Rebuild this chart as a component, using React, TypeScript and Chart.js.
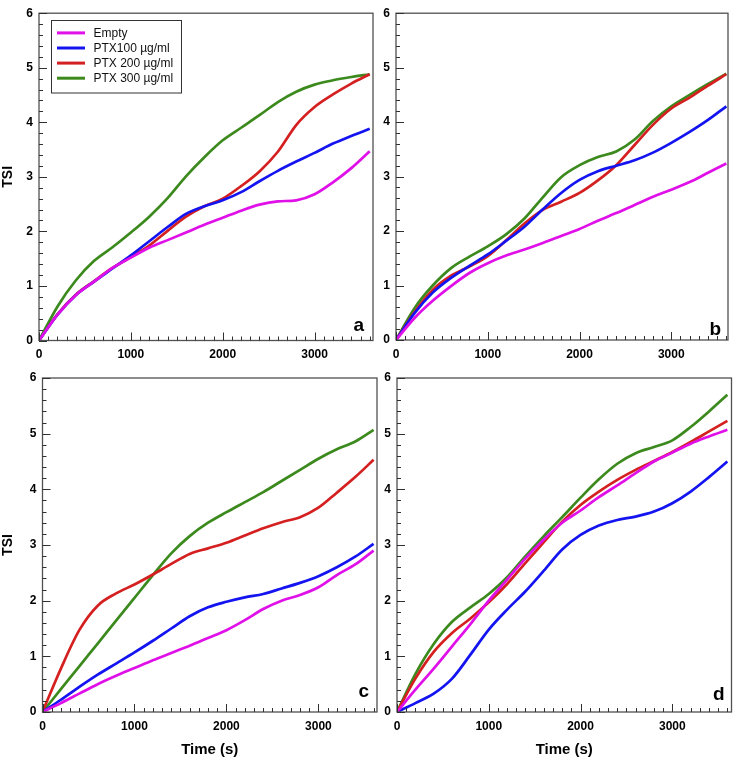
import React, { useEffect, useRef } from 'react';
import { Chart, registerables } from 'chart.js';

Chart.register(...registerables);
Chart.defaults.font.family = "'Liberation Sans', Arial, Helvetica, sans-serif";

// ---------- data ----------
const TIME = [0, 200, 400, 600, 800, 1000, 1200, 1400, 1600, 1800, 2000, 2200, 2400, 2600, 2800, 3000, 3200, 3400, 3600];

const SERIES_LABELS = ['Empty', 'PTX100 \u00b5g/ml', 'PTX 200 \u00b5g/ml', 'PTX 300 \u00b5g/ml'];
const SERIES_COLORS = ['#E010E8', '#1414F0', '#D42020', '#3C8A1E'];

const A_EMPTY = [0, 0.47, 0.83, 1.08, 1.33, 1.52, 1.70, 1.84, 1.98, 2.12, 2.25, 2.38, 2.49, 2.55, 2.57, 2.68, 2.90, 3.16, 3.47];
const A_PTX100 = [0, 0.47, 0.83, 1.08, 1.32, 1.56, 1.82, 2.08, 2.32, 2.46, 2.57, 2.72, 2.92, 3.11, 3.28, 3.44, 3.61, 3.75, 3.88];
const A_PTX200 = [0, 0.48, 0.84, 1.09, 1.33, 1.53, 1.74, 2.01, 2.27, 2.46, 2.60, 2.83, 3.10, 3.46, 3.95, 4.28, 4.51, 4.71, 4.88];
const A_PTX300 = [0, 0.62, 1.10, 1.46, 1.71, 1.98, 2.27, 2.61, 3.01, 3.36, 3.67, 3.90, 4.13, 4.37, 4.56, 4.69, 4.77, 4.83, 4.88];

const B_EMPTY = [0, 0.40, 0.72, 0.99, 1.23, 1.41, 1.55, 1.66, 1.78, 1.91, 2.04, 2.19, 2.33, 2.48, 2.63, 2.76, 2.90, 3.07, 3.24];
const B_PTX100 = [0, 0.49, 0.87, 1.14, 1.36, 1.57, 1.82, 2.08, 2.40, 2.70, 2.94, 3.10, 3.20, 3.30, 3.44, 3.62, 3.82, 4.04, 4.29];
const B_PTX200 = [0, 0.51, 0.92, 1.18, 1.35, 1.54, 1.83, 2.14, 2.39, 2.54, 2.70, 2.93, 3.21, 3.58, 3.95, 4.25, 4.45, 4.67, 4.88];
const B_PTX300 = [0, 0.58, 1.00, 1.32, 1.53, 1.72, 1.94, 2.23, 2.62, 2.99, 3.21, 3.36, 3.46, 3.68, 4.02, 4.29, 4.50, 4.70, 4.89];

const C_EMPTY = [0, 0.16, 0.33, 0.50, 0.65, 0.79, 0.93, 1.06, 1.19, 1.33, 1.47, 1.65, 1.85, 2.00, 2.10, 2.24, 2.46, 2.65, 2.90];
const C_PTX100 = [0, 0.22, 0.45, 0.67, 0.87, 1.07, 1.28, 1.50, 1.72, 1.88, 1.98, 2.06, 2.12, 2.22, 2.32, 2.44, 2.60, 2.79, 3.02];
const C_PTX200 = [0, 0.78, 1.47, 1.91, 2.13, 2.29, 2.47, 2.66, 2.84, 2.94, 3.04, 3.17, 3.30, 3.41, 3.50, 3.67, 3.94, 4.22, 4.53];
const C_PTX300 = [0, 0.41, 0.82, 1.23, 1.64, 2.05, 2.46, 2.85, 3.16, 3.40, 3.59, 3.77, 3.95, 4.15, 4.35, 4.55, 4.72, 4.86, 5.07];

const D_EMPTY = [0, 0.40, 0.78, 1.18, 1.58, 2.00, 2.38, 2.76, 3.10, 3.40, 3.62, 3.86, 4.07, 4.29, 4.50, 4.66, 4.82, 4.95, 5.07];
const D_PTX100 = [0, 0.16, 0.33, 0.60, 1.03, 1.48, 1.84, 2.17, 2.54, 2.92, 3.18, 3.35, 3.45, 3.51, 3.60, 3.75, 3.96, 4.22, 4.50];
const D_PTX200 = [0, 0.60, 1.08, 1.42, 1.68, 1.97, 2.30, 2.68, 3.05, 3.42, 3.72, 3.96, 4.17, 4.35, 4.51, 4.67, 4.85, 5.04, 5.23];
const D_PTX300 = [0, 0.68, 1.22, 1.62, 1.88, 2.12, 2.42, 2.80, 3.16, 3.50, 3.85, 4.18, 4.46, 4.65, 4.76, 4.88, 5.12, 5.40, 5.70];

const PANEL_LETTERS = ['a', 'b', 'c', 'd'];
const PANEL_SERIES = [
  [A_EMPTY, A_PTX100, A_PTX200, A_PTX300],
  [B_EMPTY, B_PTX100, B_PTX200, B_PTX300],
  [C_EMPTY, C_PTX100, C_PTX200, C_PTX300],
  [D_EMPTY, D_PTX100, D_PTX200, D_PTX300],
];
const X_TICKS = [0, 1000, 2000, 3000];
const Y_MIN = 0;
const Y_MAX = 6;
const X_TITLE = 'Time (s)';
const Y_TITLE = 'TSI';

// ---------- layout (positions / sizes) ----------
const LAYOUT = [
  { left: 0, top: 0, w: 380, h: 376, yW: 39, padTop: 6, padRight: 7, xH: 35.5, xMax: 3636, yTitle: true, xTitle: false, legend: true, ldx: 9, ldy: 10 },
  { left: 380, top: 0, w: 353, h: 376, yW: 16, padTop: 6, padRight: 5, xH: 36, xMax: 3618, yTitle: false, xTitle: false, legend: false, ldx: 7, ldy: 5 },
  { left: 0, top: 360, w: 380, h: 401, yW: 42.5, padTop: 18, padRight: 3, xH: 49, xMax: 3637, yTitle: true, xTitle: true, legend: false, ldx: 8, ldy: 15 },
  { left: 380, top: 360, w: 353, h: 401, yW: 17, padTop: 18, padRight: 1.5, xH: 49, xMax: 3645, yTitle: false, xTitle: true, legend: false, ldx: 7, ldy: 12 },
];

const FONT = "'Liberation Sans', Arial, Helvetica, sans-serif";

function makeDecorPlugin(letter: string, lay: any) {
  return {
    id: 'decor',
    afterDatasetsDraw(chart: any) {
      const { ctx, chartArea: ca, scales } = chart;
      const xs = scales.x;
      const ys = scales.y;
      ctx.save();
      // frame
      ctx.strokeStyle = '#505050';
      ctx.lineWidth = 1.3;
      ctx.strokeRect(ca.left, ca.top, ca.right - ca.left, ca.bottom - ca.top);
      // inward ticks
      ctx.strokeStyle = '#303030';
      ctx.lineWidth = 1;
      ctx.beginPath();
      for (let i = 0; i * 100 <= xs.max; i++) {
        const v = i * 100;
        const px = Math.round(xs.getPixelForValue(v)) + 0.5;
        const len = i % 10 === 0 ? 8 : 4;
        ctx.moveTo(px, ca.bottom);
        ctx.lineTo(px, ca.bottom - len);
      }
      for (let i = 0; i <= 30; i++) {
        const v = i * 0.2;
        const py = Math.round(ys.getPixelForValue(v)) + 0.5;
        const len = i % 5 === 0 ? 8 : 4;
        ctx.moveTo(ca.left, py);
        ctx.lineTo(ca.left + len, py);
      }
      ctx.stroke();
      // panel letter
      ctx.fillStyle = '#000';
      ctx.font = `bold 19px ${FONT}`;
      ctx.textAlign = 'right';
      ctx.textBaseline = 'alphabetic';
      ctx.fillText(letter, ca.right - lay.ldx, ca.bottom - lay.ldy);
      // legend
      if (lay.legend) {
        const bx = ca.left + 11.5;
        const by = ca.top + 6.5;
        const bw = 130;
        const bh = 72.5;
        ctx.fillStyle = '#fff';
        ctx.fillRect(bx, by, bw, bh);
        ctx.strokeStyle = '#333';
        ctx.lineWidth = 1;
        ctx.strokeRect(Math.round(bx) + 0.5, Math.round(by) + 0.5, bw, bh);
        ctx.font = `12px ${FONT}`;
        ctx.textAlign = 'left';
        ctx.textBaseline = 'middle';
        chart.data.datasets.forEach((ds: any, i: number) => {
          const cy = ca.top + 19.7 + i * 15.1;
          ctx.strokeStyle = ds.borderColor;
          ctx.lineWidth = 3;
          ctx.beginPath();
          ctx.moveTo(ca.left + 18, cy);
          ctx.lineTo(ca.left + 46, cy);
          ctx.stroke();
          ctx.fillStyle = '#111';
          ctx.fillText(ds.label, ca.left + 54.5, cy + 0.5);
        });
      }
      ctx.restore();
    },
  };
}

function Panel({ idx }: { idx: number }) {
  const ref = useRef<HTMLCanvasElement | null>(null);
  const lay = LAYOUT[idx];
  useEffect(() => {
    if (!ref.current) return;
    const datasets = PANEL_SERIES[idx].map((vals, s) => ({
      label: SERIES_LABELS[s],
      data: TIME.map((t, k) => ({ x: t, y: vals[k] })),
      borderColor: SERIES_COLORS[s],
      backgroundColor: SERIES_COLORS[s],
      borderWidth: 2.7,
      pointRadius: 0,
      cubicInterpolationMode: 'monotone' as const,
      fill: false,
    }));
    const chart = new Chart(ref.current, {
      type: 'line',
      data: { datasets },
      options: {
        animation: false,
        responsive: false,
        maintainAspectRatio: false,
        devicePixelRatio: 1,
        layout: { padding: { top: lay.padTop, right: lay.padRight, left: 0, bottom: 0 } },
        plugins: { legend: { display: false }, tooltip: { enabled: false } },
        scales: {
          x: {
            type: 'linear',
            min: 0,
            max: lay.xMax,
            grid: { display: false, drawTicks: false },
            border: { display: false },
            afterBuildTicks: (scale: any) => {
              scale.ticks = X_TICKS.map((v) => ({ value: v }));
            },
            afterFit: (scale: any) => {
              scale.height = lay.xH;
            },
            ticks: {
              autoSkip: false,
              maxRotation: 0,
              padding: 7,
              color: '#000',
              font: { size: 12, weight: 'bold' },
              callback: (v: any) => String(v),
            },
            title: {
              display: lay.xTitle,
              text: X_TITLE,
              color: '#000',
              font: { size: 15, weight: 'bold' },
              padding: { top: 0, bottom: 2 },
            },
          },
          y: {
            type: 'linear',
            min: Y_MIN,
            max: Y_MAX,
            grid: { display: false, drawTicks: false },
            border: { display: false },
            afterFit: (scale: any) => {
              scale.width = lay.yW;
            },
            ticks: {
              stepSize: 1,
              padding: 6,
              color: '#000',
              font: { size: 12, weight: 'bold' },
              callback: (v: any) => String(v),
            },
            title: {
              display: lay.yTitle,
              text: Y_TITLE,
              color: '#000',
              font: { size: 14, weight: 'bold' },
              padding: { top: 0, bottom: 0 },
            },
          },
        },
      },
      plugins: [makeDecorPlugin(PANEL_LETTERS[idx], lay)],
    } as any);
    return () => chart.destroy();
  }, [idx]);
  return (
    <div style={{ position: 'absolute', left: lay.left, top: lay.top, width: lay.w, height: lay.h }}>
      <canvas ref={ref} width={lay.w} height={lay.h} style={{ width: lay.w, height: lay.h, display: 'block' }} />
    </div>
  );
}

export default function App() {
  return (
    <div style={{ position: 'absolute', left: 0, top: 0, width: 733, height: 761, background: '#fff' }}>
      {LAYOUT.map((_, i) => (
        <Panel key={i} idx={i} />
      ))}
    </div>
  );
}
